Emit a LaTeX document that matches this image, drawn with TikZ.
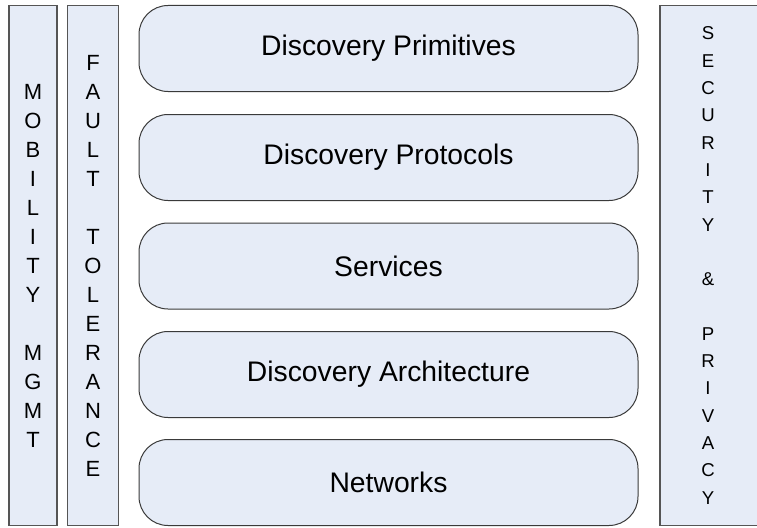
\documentclass[tikz,border=0pt]{standalone}
\usepackage{fontspec}
\setmainfont{Liberation Sans}
\definecolor{boxfill}{HTML}{E6ECF7}
\definecolor{boxline}{HTML}{3A3A3A}
\definecolor{colline}{HTML}{555555}
\begin{document}
\begin{tikzpicture}[x=1pt,y=-1pt,
  layer/.style={draw=boxline, fill=boxfill, line width=1pt, rounded corners=29pt,
    minimum width=499pt, minimum height=86pt, inner sep=0pt,
    font={\fontsize{28.3}{30}\selectfont}},
  column/.style={draw=colline, fill=boxfill, line width=1.3pt, inner sep=0pt,
    align=center},
  coltext/.style={inner sep=0pt, align=center},
  colfont/.style={font={\fontsize{22}{29}\selectfont}},
  secfont/.style={font={\fontsize{18.6}{27.3}\selectfont}}
]
\useasboundingbox (0,0) rectangle (757,527);
\clip (0,0) rectangle (757,527);
\node[column, colfont, minimum width=48pt, minimum height=520.5pt] (mob) at (33,265.5)
  {M\\O\\B\\I\\L\\I\\T\\Y\\\mbox{}\\M\\G\\M\\T};
\node[column, colfont, minimum width=50.5pt, minimum height=520.5pt] (ft) at (93,265.5)
  {F\\A\\U\\L\\T\\\mbox{}\\T\\O\\L\\E\\R\\A\\N\\C\\E};
\node[column, minimum width=106pt, minimum height=520.5pt] (sec) at (713,265.5) {};
\node[coltext, secfont] (sectext) at (708,265.5)
  {S\\E\\C\\U\\R\\I\\T\\Y\\\mbox{}\\\&\\\mbox{}\\P\\R\\I\\V\\A\\C\\Y};
\node[layer] (prim) at (388.5,48.5) {Discovery Primitives};
\node[layer] (prot) at (388.5,157.5) {Discovery Protocols};
\node[layer] (serv) at (388.5,266) {Services};
\node[layer] (arch) at (388.5,374.5) {Discovery Architecture};
\node[layer] (net) at (388.5,482.5) {Networks};
\end{tikzpicture}
\end{document}
